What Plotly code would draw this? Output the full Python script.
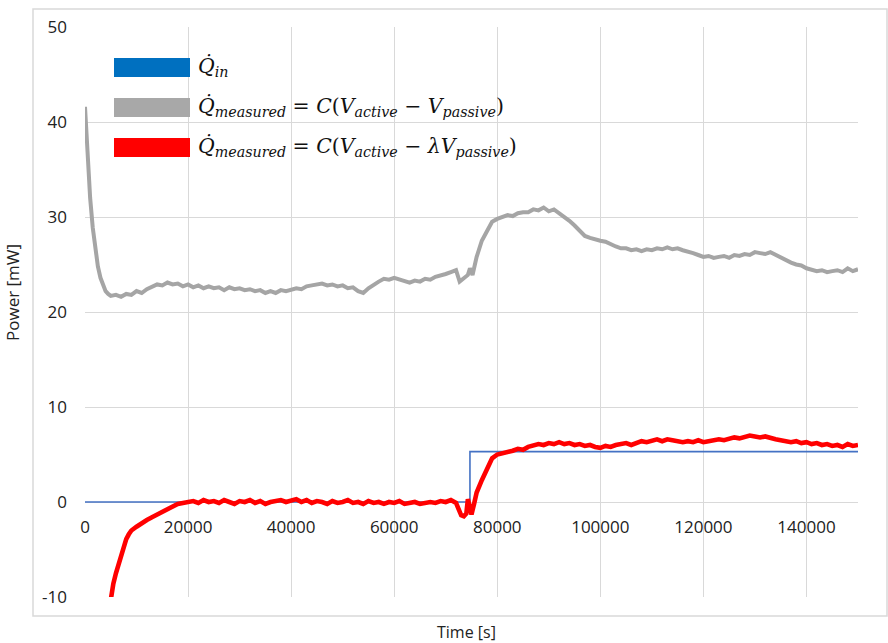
import plotly.graph_objects as go

# ---------------- data ----------------
gray_time = [0, 500, 1000, 1500, 2000, 2500, 3000, 3500, 4000, 4500, 5000,
             6000, 7000, 8000, 9000, 10000, 11000, 12000, 13000, 14000, 15000,
             16000, 17000, 18000, 19000, 20000, 21000, 22000, 23000, 24000, 25000,
             26000, 27000, 28000, 29000, 30000, 31000, 32000, 33000, 34000, 35000,
             36000, 37000, 38000, 39000, 40000, 41000, 42000, 43000, 44000, 45000,
             46000, 47000, 48000, 49000, 50000, 51000, 52000, 53000, 54000, 55000,
             56000, 57000, 58000, 59000, 60000, 61000, 62000, 63000, 64000, 65000,
             66000, 67000, 68000, 69000, 70000, 71000, 72000, 72700, 73500, 74300,
             74700, 75200, 76000, 77000, 78000, 79000, 80000, 81000, 82000, 83000,
             84000, 85000, 86000, 87000, 88000, 89000, 90000, 91000, 92000, 93000,
             94000, 95000, 96000, 97000, 98000, 99000, 100000, 101000, 102000, 103000,
             104000, 105000, 106000, 107000, 108000, 109000, 110000, 111000, 112000, 113000,
             114000, 115000, 116000, 117000, 118000, 119000, 120000, 121000, 122000, 123000,
             124000, 125000, 126000, 127000, 128000, 129000, 130000, 131000, 132000, 133000,
             134000, 135000, 136000, 137000, 138000, 139000, 140000, 141000, 142000, 143000,
             144000, 145000, 146000, 147000, 148000, 149000, 150000]
gray_power = [41.6, 36.5, 32.0, 28.9, 26.6, 24.8, 23.6, 22.8, 22.2, 21.9, 21.7,
              21.8, 21.6, 21.9, 21.8, 22.2, 22.0, 22.4, 22.6, 22.9, 22.8,
              23.1, 22.9, 23.0, 22.7, 22.9, 22.6, 22.8, 22.5, 22.7, 22.5,
              22.6, 22.3, 22.6, 22.4, 22.5, 22.3, 22.4, 22.2, 22.3, 22.0,
              22.2, 22.0, 22.3, 22.2, 22.4, 22.5, 22.4, 22.7, 22.8, 22.9,
              23.0, 22.8, 22.9, 22.7, 22.8, 22.5, 22.6, 22.2, 22.0, 22.5,
              22.9, 23.2, 23.5, 23.4, 23.6, 23.4, 23.3, 23.1, 23.3, 23.2,
              23.5, 23.4, 23.7, 23.8, 24.0, 24.2, 24.4, 23.2, 23.5, 23.9,
              24.6, 23.9, 25.8, 27.5, 28.5, 29.5, 29.8, 30.0, 30.2, 30.1,
              30.4, 30.5, 30.5, 30.8, 30.7, 31.0, 30.6, 30.8, 30.4, 30.1,
              29.6, 29.1, 28.5, 28.0, 27.8, 27.6, 27.5, 27.4, 27.1, 26.9,
              26.7, 26.7, 26.5, 26.6, 26.4, 26.6, 26.5, 26.7, 26.6, 26.8,
              26.6, 26.7, 26.5, 26.4, 26.2, 26.0, 25.8, 25.9, 25.7, 25.8,
              25.9, 25.7, 26.0, 25.9, 26.1, 26.0, 26.3, 26.2, 26.1, 26.3,
              26.0, 25.8, 25.5, 25.2, 25.0, 24.9, 24.6, 24.5, 24.3, 24.4,
              24.2, 24.3, 24.4, 24.2, 24.6, 24.3, 24.5]

red_time = [4500, 5000, 5500, 6000, 6500, 7000, 7500, 8000, 8500, 9000,
            10000, 11000, 12000, 13000, 14000, 15000, 16000, 17000, 18000, 19000,
            20000, 21000, 22000, 23000, 24000, 25000, 26000, 27000, 28000, 29000,
            30000, 31000, 32000, 33000, 34000, 35000, 36000, 37000, 38000, 39000,
            40000, 41000, 42000, 43000, 44000, 45000, 46000, 47000, 48000, 49000,
            50000, 51000, 52000, 53000, 54000, 55000, 56000, 57000, 58000, 59000,
            60000, 61000, 62000, 63000, 64000, 65000, 66000, 67000, 68000, 69000,
            70000, 71000, 72000, 72500, 73000, 73500, 74000, 74300, 74600, 75000,
            75500, 76000, 77000, 78000, 79000, 80000, 81000, 82000, 83000, 84000,
            85000, 86000, 87000, 88000, 89000, 90000, 91000, 92000, 93000, 94000,
            95000, 96000, 97000, 98000, 99000, 100000, 101000, 102000, 103000, 104000,
            105000, 106000, 107000, 108000, 109000, 110000, 111000, 112000, 113000, 114000,
            115000, 116000, 117000, 118000, 119000, 120000, 121000, 122000, 123000, 124000,
            125000, 126000, 127000, 128000, 129000, 130000, 131000, 132000, 133000, 134000,
            135000, 136000, 137000, 138000, 139000, 140000, 141000, 142000, 143000, 144000,
            145000, 146000, 147000, 148000, 149000, 150000]
red_power = [-12.0, -10.0, -8.6, -7.5, -6.6, -5.6, -4.7, -3.9, -3.4, -3.0,
             -2.6, -2.2, -1.9, -1.6, -1.3, -1.1, -0.8, -0.4, -0.2, -0.1,
             0.0, 0.1, -0.1, 0.2, 0.0, 0.1, -0.1, 0.2, 0.0, -0.2,
             0.1, 0.0, 0.2, -0.1, 0.1, -0.2, 0.0, 0.1, 0.2, 0.0,
             0.1, 0.3, 0.0, 0.2, -0.1, 0.1, 0.0, -0.2, 0.1, -0.1,
             0.0, 0.2, -0.1, 0.0, -0.2, 0.1, -0.1, 0.0, -0.2, 0.0,
             -0.1, 0.1, -0.2, -0.1, 0.0, -0.2, -0.1, 0.0, -0.1, 0.1,
             0.0, 0.2, -0.1, -0.9, -1.4, -1.5, -1.2, 0.3, -0.4, -1.3,
             -0.2, 1.0, 2.3, 3.6, 4.6, 5.0, 5.1, 5.3, 5.4, 5.6,
             5.5, 5.8, 5.9, 6.1, 6.0, 6.2, 6.1, 6.3, 6.1, 6.2,
             6.0, 6.1, 5.9, 6.0, 5.8, 5.7, 5.9, 5.8, 6.0, 6.1,
             6.2, 6.0, 6.2, 6.4, 6.3, 6.5, 6.6, 6.4, 6.6, 6.5,
             6.4, 6.3, 6.4, 6.3, 6.5, 6.3, 6.4, 6.5, 6.6, 6.5,
             6.7, 6.8, 6.7, 6.9, 7.0, 6.9, 6.8, 6.9, 6.7, 6.6,
             6.5, 6.4, 6.3, 6.4, 6.2, 6.3, 6.1, 6.2, 6.0, 6.1,
             5.9, 6.0, 5.8, 6.1, 5.9, 6.0]

qin_time = [0, 74700, 150000]
qin_power = [0.0, 5.3, 5.3]

x_ticks = [0, 20000, 40000, 60000, 80000, 100000, 120000, 140000]
y_ticks = [-10, 0, 10, 20, 30, 40, 50]

legend_labels = [
    "<i>Q\u0307</i><sub><i>in</i></sub>",
    "<i>Q\u0307</i><sub><i>measured</i></sub> = <i>C</i>(<i>V</i><sub><i>active</i></sub> \u2212 <i>V</i><sub><i>passive</i></sub>)",
    "<i>Q\u0307</i><sub><i>measured</i></sub> = <i>C</i>(<i>V</i><sub><i>active</i></sub> \u2212 <i>\u03bbV</i><sub><i>passive</i></sub>)",
]
legend_colors = ["#0070C0", "#A8A8A8", "#FF0000"]

# ---------------- figure ----------------
fig = go.Figure()
fig.add_trace(go.Scatter(x=gray_time, y=gray_power, mode="lines",
                         line=dict(color="#A5A5A5", width=4), showlegend=False))
fig.add_trace(go.Scatter(x=qin_time, y=qin_power, mode="lines", line_shape="hv",
                         line=dict(color="#4472C4", width=1.6), showlegend=False))
fig.add_trace(go.Scatter(x=red_time, y=red_power, mode="lines",
                         line=dict(color="#FF0000", width=4.6), showlegend=False))

W, H = 888, 643
L, R, T, B = 85, 30, 27, 46
pw, ph = W - L - R, H - T - B

def px_x(p):
    return (p - L) / pw

def px_y(p):
    return (H - B - p) / ph

shapes = [dict(type="rect", xref="paper", yref="paper",
               x0=px_x(33), x1=px_x(887), y0=px_y(616), y1=px_y(9),
               line=dict(color="#D9D9D9", width=1.5), fillcolor="rgba(0,0,0,0)",
               layer="below")]
bar_tops = [58, 98, 138]
annotations = []
for top, col, lab in zip(bar_tops, legend_colors, legend_labels):
    shapes.append(dict(type="rect", xref="paper", yref="paper",
                       x0=px_x(114), x1=px_x(190), y0=px_y(top + 19), y1=px_y(top),
                       fillcolor=col, line=dict(width=0)))
    annotations.append(dict(xref="paper", yref="paper", x=px_x(196), y=px_y(top + 9),
                            xanchor="left", yanchor="middle", showarrow=False,
                            text=lab, font=dict(family="DejaVu Serif", size=20.4, color="#111111")))

annotations.append(dict(xref="paper", yref="paper", x=px_x(466), y=px_y(632),
                        xanchor="center", yanchor="middle", showarrow=False,
                        text="Time [s]", font=dict(family="Open Sans", size=16, color="#222222")))
annotations.append(dict(xref="paper", yref="paper", x=px_x(12), y=px_y(293),
                        xanchor="center", yanchor="middle", showarrow=False, textangle=-90,
                        text="Power [mW]", font=dict(family="Open Sans", size=17, color="#222222")))

fig.update_layout(
    width=W, height=H,
    margin=dict(l=L, r=R, t=T, b=B),
    paper_bgcolor="white", plot_bgcolor="white",
    font=dict(family="Open Sans", size=17, color="#222222"),
    shapes=shapes, annotations=annotations,
    xaxis=dict(range=[0, 150000], tickvals=x_ticks, ticktext=[str(v) for v in x_ticks],
               showgrid=True, gridcolor="#D9D9D9", gridwidth=1,
               zeroline=False, showline=False, ticks="",
               anchor="free", position=1 / 6, ticklabelstandoff=13),
    yaxis=dict(range=[-10, 50], tickvals=y_ticks, ticktext=[str(v) for v in y_ticks],
               showgrid=True, gridcolor="#D9D9D9", gridwidth=1,
               zeroline=False, showline=False, ticks="", ticklabelstandoff=17),
)

fig.write_html("out.html", config={"displayModeBar": False},
               post_script="document.body.style.margin='0';")
